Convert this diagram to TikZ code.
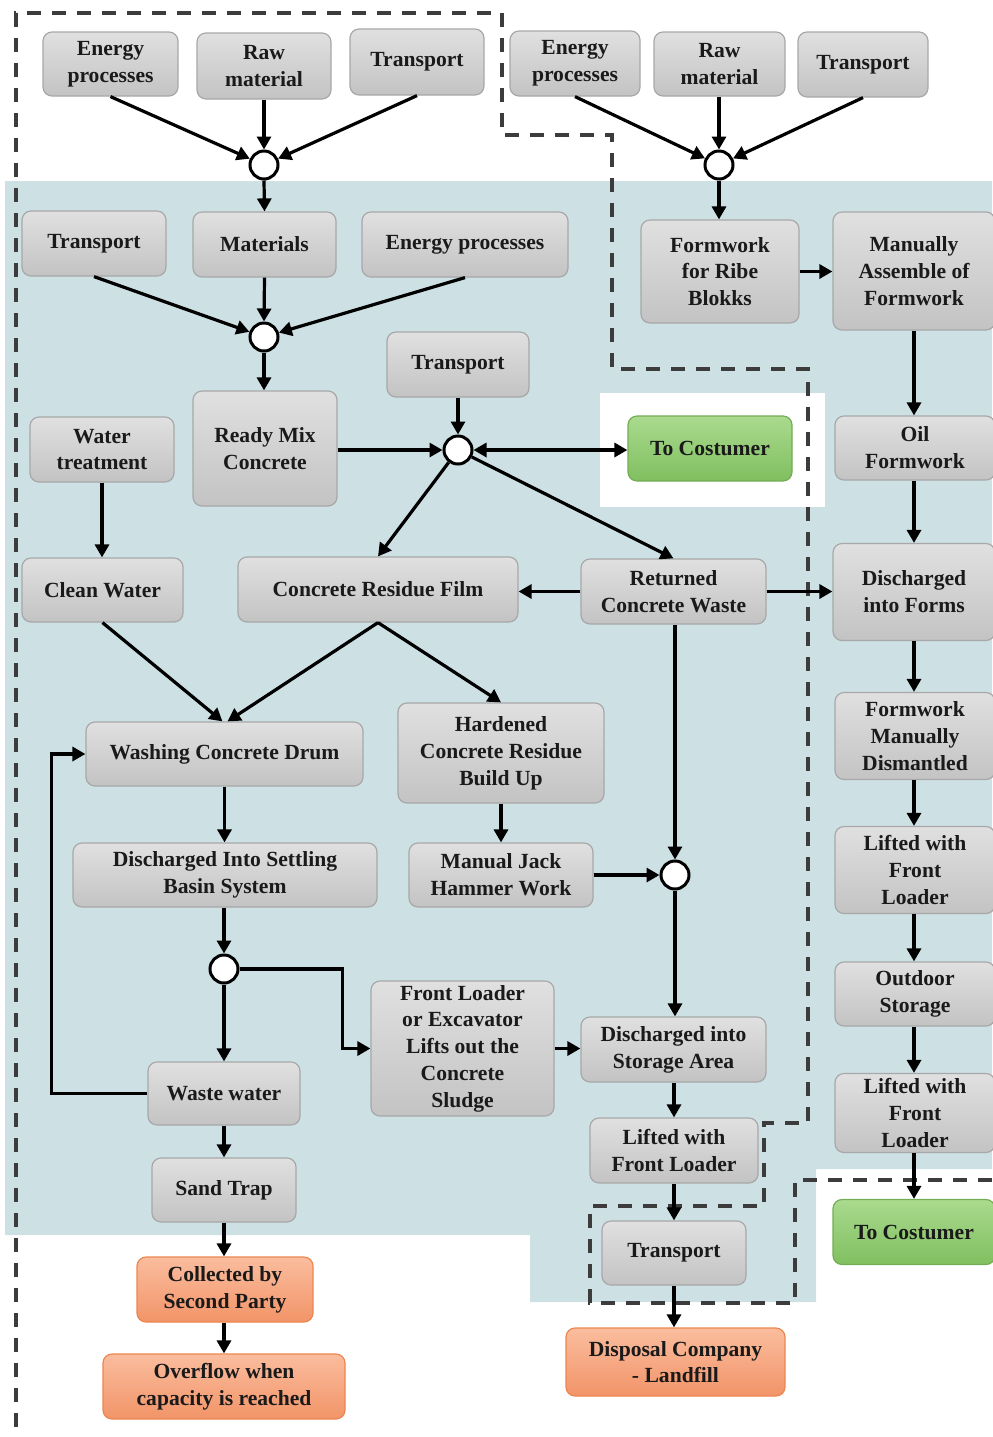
\documentclass[tikz,border=0pt]{standalone}
\usepackage{fontspec}
\setmainfont{Liberation Serif}
\usetikzlibrary{arrows.meta,calc}
\definecolor{bgblue}{HTML}{CDE0E4}
\definecolor{boxtop}{HTML}{E0E0E0}
\definecolor{boxbot}{HTML}{C3C3C3}
\definecolor{boxline}{HTML}{A8A8A8}
\definecolor{grtop}{HTML}{AADA8E}
\definecolor{grbot}{HTML}{80BF60}
\definecolor{grline}{HTML}{74AD55}
\definecolor{ortop}{HTML}{FABD9E}
\definecolor{orbot}{HTML}{F29468}
\definecolor{orline}{HTML}{EC8650}
\definecolor{dashc}{HTML}{3C3C3C}
\definecolor{txt}{HTML}{1A1A1A}
\tikzset{
  box/.style={rounded corners=4.5pt, draw=boxline, line width=0.6pt,
    top color=boxtop, bottom color=boxbot, inner sep=2pt, align=center,
    text=txt, font=\bfseries\fontsize{10.8}{13.4}\selectfont},
  gbox/.style={box, draw=grline, top color=grtop, bottom color=grbot},
  obox/.style={box, draw=orline, top color=ortop, bottom color=orbot},
  sz/.style 2 args={minimum width=#1*0.5pt, minimum height=#2*0.5pt},
  hub/.style={circle, draw=black, line width=1.5pt, fill=white,
    minimum size=14pt, inner sep=0pt},
  arr/.style={line width=1.6pt, -{Triangle[length=6.5pt,width=7pt]}},
  darr/.style={line width=1.6pt, {Triangle[length=6.5pt,width=7pt]}-{Triangle[length=6.5pt,width=7pt]}},
  boundary/.style={dashc, line width=1.8pt, dash pattern=on 7pt off 5.5pt}
}
\begin{document}
\begin{tikzpicture}[x=0.5pt,y=-0.5pt]
\useasboundingbox (0,0) rectangle (992,1437);

% shaded site area and the cut-out around the delivery box
\fill[bgblue] (5,181) -- (992,181) -- (992,1169) -- (816,1169) -- (816,1302)
  -- (530,1302) -- (530,1235) -- (5,1235) -- cycle;
\fill[white] (600,393) rectangle (825,507);

% system boundary
\draw[boundary] (992,1180) -- (795,1180) -- (795,1303) -- (590,1303) -- (590,1206)
  -- (764,1206) -- (764,1123) -- (808,1123) -- (808,369) -- (612,369) -- (612,135)
  -- (502,135) -- (502,13) -- (16,13) -- (16,1437);

% upstream inputs, left
\node[box,sz={135}{64}] (e1) at (110.5,64) {Energy\\processes};
\node[box,sz={134}{66}] (r1) at (264,66) {Raw\\material};
\node[box,sz={134}{66}] (t1) at (417,62) {Transport};
\node[hub] (c1) at (264,165) {};

% upstream inputs, right
\node[box,sz={130}{65}] (e2) at (575,63.5) {Energy\\processes};
\node[box,sz={131}{64}] (r2) at (719.5,64) {Raw\\material};
\node[box,sz={130}{65}] (t2) at (863,64.5) {Transport};
\node[hub] (c6) at (719,165) {};

% concrete production
\node[box,sz={144}{65}] (tr) at (94,243.5) {Transport};
\node[box,sz={143}{65}] (mat) at (264.5,244.5) {Materials};
\node[box,sz={206}{65}] (ep) at (465,244.5) {Energy processes};
\node[hub] (c2) at (264,337) {};
\node[box,sz={144}{115}] (rm) at (265,448.5) {Ready Mix\\Concrete};
\node[box,sz={142}{65}] (tm) at (458,364.5) {Transport};
\node[hub] (c3) at (458,450) {};
\node[gbox,sz={164}{65}] (tc1) at (710,448.5) {To Costumer};
\node[box,sz={144}{65}] (wt) at (102,449.5) {Water\\treatment};
\node[box,sz={161}{64}] (cw) at (102.5,590) {Clean Water};
\node[box,sz={280}{65}] (crf) at (378,589.5) {Concrete Residue Film};
\node[box,sz={185}{65}] (rcw) at (673.5,591.5) {Returned\\Concrete Waste};

% washing and residue handling
\node[box,sz={277}{64}] (wcd) at (224.5,754) {Washing Concrete Drum};
\node[box,sz={206}{100}] (hcr) at (501,753) {Hardened\\Concrete Residue\\Build Up};
\node[box,sz={304}{64}] (dis) at (225,875) {Discharged Into Settling\\Basin System};
\node[box,sz={184}{64}] (mjh) at (501,875) {Manual Jack\\Hammer Work};
\node[hub] (c4) at (675,875) {};
\node[hub] (c5) at (224,969) {};
\node[box,sz={183}{135}] (fl) at (462.5,1048.5) {Front Loader\\or Excavator\\Lifts out the\\Concrete\\Sludge};
\node[box,sz={185}{65}] (dsa) at (673.5,1049.5) {Discharged into\\Storage Area};
\node[box,sz={152}{63}] (ww) at (224,1093.5) {Waste water};
\node[box,sz={168}{65}] (lf1) at (674,1150.5) {Lifted with\\Front Loader};
\node[box,sz={144}{64}] (st) at (224,1190) {Sand Trap};
\node[box,sz={144}{64}] (tb) at (674,1253) {Transport};
\node[obox,sz={176}{65}] (csp) at (225,1289.5) {Collected by\\Second Party};
\node[obox,sz={242}{65}] (ovf) at (224,1386.5) {Overflow when\\capacity is reached};
\node[obox,sz={219}{68}] (dc) at (675.5,1362) {Disposal Company\\- Landfill};

% formwork line
\node[box,sz={158}{103}] (frb) at (720,271.5) {Formwork\\for Ribe\\Blokks};
\node[box,sz={162}{118}] (maf) at (914,271) {Manually\\Assemble of\\Formwork};
\node[box,sz={160}{64}] (oil) at (915,448) {Oil\\Formwork};
\node[box,sz={162}{97}] (dif) at (914,592) {Discharged\\into Forms};
\node[box,sz={160}{87}] (fmd) at (915,736) {Formwork\\Manually\\Dismantled};
\node[box,sz={160}{87}] (lf2) at (915,870) {Lifted with\\Front\\Loader};
\node[box,sz={160}{64}] (os) at (915,994) {Outdoor\\Storage};
\node[box,sz={160}{79}] (lf3) at (915,1113) {Lifted with\\Front\\Loader};
\node[gbox,sz={162}{65}] (tc2) at (914,1232) {To Costumer};

% connectors
\draw[arr] (e1.south) -- (c1);
\draw[arr] (r1.south) -- (c1.north);
\draw[arr] (t1.south) -- (c1);
\draw[arr] (c1.south) -- (mat.north);
\draw[arr] (tr.south) -- (c2);
\draw[arr] (mat.south) -- (c2.north);
\draw[arr] (ep.south) -- (c2);
\draw[arr] (c2.south) -- (rm.north -| c2.south);
\draw[arr] (rm.east |- c3.west) -- (c3.west);
\draw[arr] (tm.south) -- (c3.north);
\draw[darr] (c3.east) -- (tc1.west |- c3.east);
\draw[arr] (c3) -- (crf.north);
\draw[arr] (c3) -- (rcw.north);
\draw[arr] (rcw.west) -- (crf.east |- rcw.west);
\draw[arr] (rcw.east) -- (dif.west |- rcw.east);
\draw[arr] (wt.south) -- (cw.north -| wt.south);
\draw[arr] (cw.south) -- ([xshift=-1pt]wcd.north);
\draw[arr] (crf.south) -- ([xshift=1.5pt]wcd.north);
\draw[arr] (crf.south) -- (hcr.north);
\draw[arr] (hcr.south) -- (mjh.north -| hcr.south);
\draw[arr] (mjh.east) -- (c4.west);
\draw[arr] (rcw.south -| c4.north) -- (c4.north);
\draw[arr] (c4.south) -- (dsa.north -| c4.south);
\draw[arr] (wcd.south) -- (dis.north -| wcd.south);
\draw[arr] (dis.south -| c5.north) -- (c5.north);
\draw[arr] (c5.south) -- (ww.north);
\draw[arr] (c5.east) -| ([xshift=-14pt]fl.west) -- (fl.west);
\draw[arr] (fl.east) -- (dsa.west |- fl.east);
\draw[arr] (ww.west) -- ([xshift=-48pt]ww.west) |- (wcd.west);
\draw[arr] (ww.south) -- (st.north);
\draw[arr] (st.south) -- (csp.north -| st.south);
\draw[arr] (csp.south -| ovf.north) -- (ovf.north);
\draw[arr] (dsa.south -| lf1.north) -- (lf1.north);
\draw[arr] (lf1.south) -- (tb.north);
\draw[arr] (tb.south) -- (dc.north -| tb.south);

\draw[arr] (e2.south) -- (c6);
\draw[arr] (r2.south -| c6.north) -- (c6.north);
\draw[arr] (t2.south) -- (c6);
\draw[arr] (c6.south) -- (frb.north -| c6.south);
\draw[arr] (frb.east) -- (maf.west |- frb.east);
\draw[arr] (maf.south) -- (oil.north -| maf.south);
\draw[arr] (oil.south -| maf.south) -- (dif.north);
\draw[arr] (dif.south) -- (fmd.north -| dif.south);
\draw[arr] (fmd.south -| dif.south) -- (lf2.north -| dif.south);
\draw[arr] (lf2.south -| dif.south) -- (os.north -| dif.south);
\draw[arr] (os.south -| dif.south) -- (lf3.north -| dif.south);
\draw[arr] (lf3.south -| dif.south) -- (tc2.north);
\end{tikzpicture}
\end{document}
